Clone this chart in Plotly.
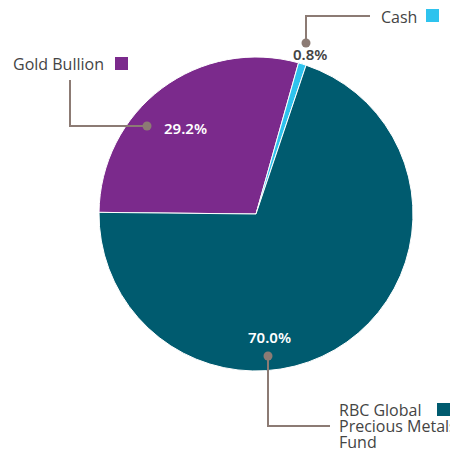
import plotly.graph_objects as go

# ---- data ----
categories = ["Gold Bullion", "Cash", "RBC Global Precious Metals Fund"]
label_lines = [["Gold Bullion"], ["Cash"], ["RBC Global", "Precious Metals", "Fund"]]
values = [29.2, 0.8, 70.0]
colors = ["#7B2A8C", "#2EC3EE", "#005B6F"]

OFF = 8  # page body margin in the browser
W, H = 458 - OFF, 449 - OFF
LEADER = "#8C7B74"
TEXT = "#444444"


def px(x):
    return (x - OFF) / W


def py(y):
    return 1 - (y - OFF) / H


fig = go.Figure()
fig.add_trace(go.Pie(
    labels=categories,
    values=values,
    sort=False,
    direction="clockwise",
    rotation=270.6,
    marker=dict(colors=colors, line=dict(color="white", width=1)),
    textinfo="none",
    hoverinfo="label+percent",
    showlegend=False,
    domain=dict(x=[px(99), px(413)], y=[py(371), py(57)]),
))

shapes = []
annotations = []

layout_info = [
    # Gold Bullion
    dict(pct=(185, 128, "white"), path=[(147, 126), (70, 126), (70, 80)],
         label=(11, 64), square=(115, 57)),
    # Cash
    dict(pct=(310, 54, TEXT), path=[(306, 43), (306, 16), (370, 16)],
         label=(379, 17), square=(426, 9)),
    # RBC
    dict(pct=(269, 337, "white"), path=[(268, 356), (268, 426), (330, 426)],
         label=(337, 410), square=(437, 403)),
]

for cat, lines, val, col, info in zip(categories, label_lines, values, colors, layout_info):
    x, y, tc = info["pct"]
    annotations.append(dict(
        x=px(x), y=py(y), xref="paper", yref="paper", text=f"{val:.1f}%",
        showarrow=False, xanchor="center", yanchor="middle",
        font=dict(family="Noto Sans", size=15, color=tc, weight=600),
    ))
    path = info["path"]
    d = "M " + " L ".join(f"{px(a)},{py(b)}" for a, b in path)
    shapes.append(dict(type="path", path=d, xref="paper", yref="paper",
                       line=dict(color=LEADER, width=2)))
    dx, dy = path[0]
    shapes.append(dict(type="circle", xref="paper", yref="paper",
                       x0=px(dx - 4.5), x1=px(dx + 4.5), y0=py(dy + 4.5), y1=py(dy - 4.5),
                       fillcolor=LEADER, line=dict(width=0)))
    lx, ly = info["label"]
    for k, line in enumerate(lines):
        annotations.append(dict(
            x=px(lx), y=py(ly + 16 * k), xref="paper", yref="paper", text=line,
            showarrow=False, xanchor="left", yanchor="middle", align="left",
            font=dict(family="Open Sans", size=16, color=TEXT),
        ))
    sx, sy = info["square"]
    shapes.append(dict(type="rect", xref="paper", yref="paper",
                       x0=px(sx), x1=px(sx + 13), y0=py(sy + 13), y1=py(sy),
                       fillcolor=col, line=dict(width=0)))

fig.update_layout(
    width=W, height=H,
    margin=dict(l=0, r=0, t=0, b=0),
    paper_bgcolor="white", plot_bgcolor="white",
    shapes=shapes, annotations=annotations,
)

fig.write_html("out.html")
